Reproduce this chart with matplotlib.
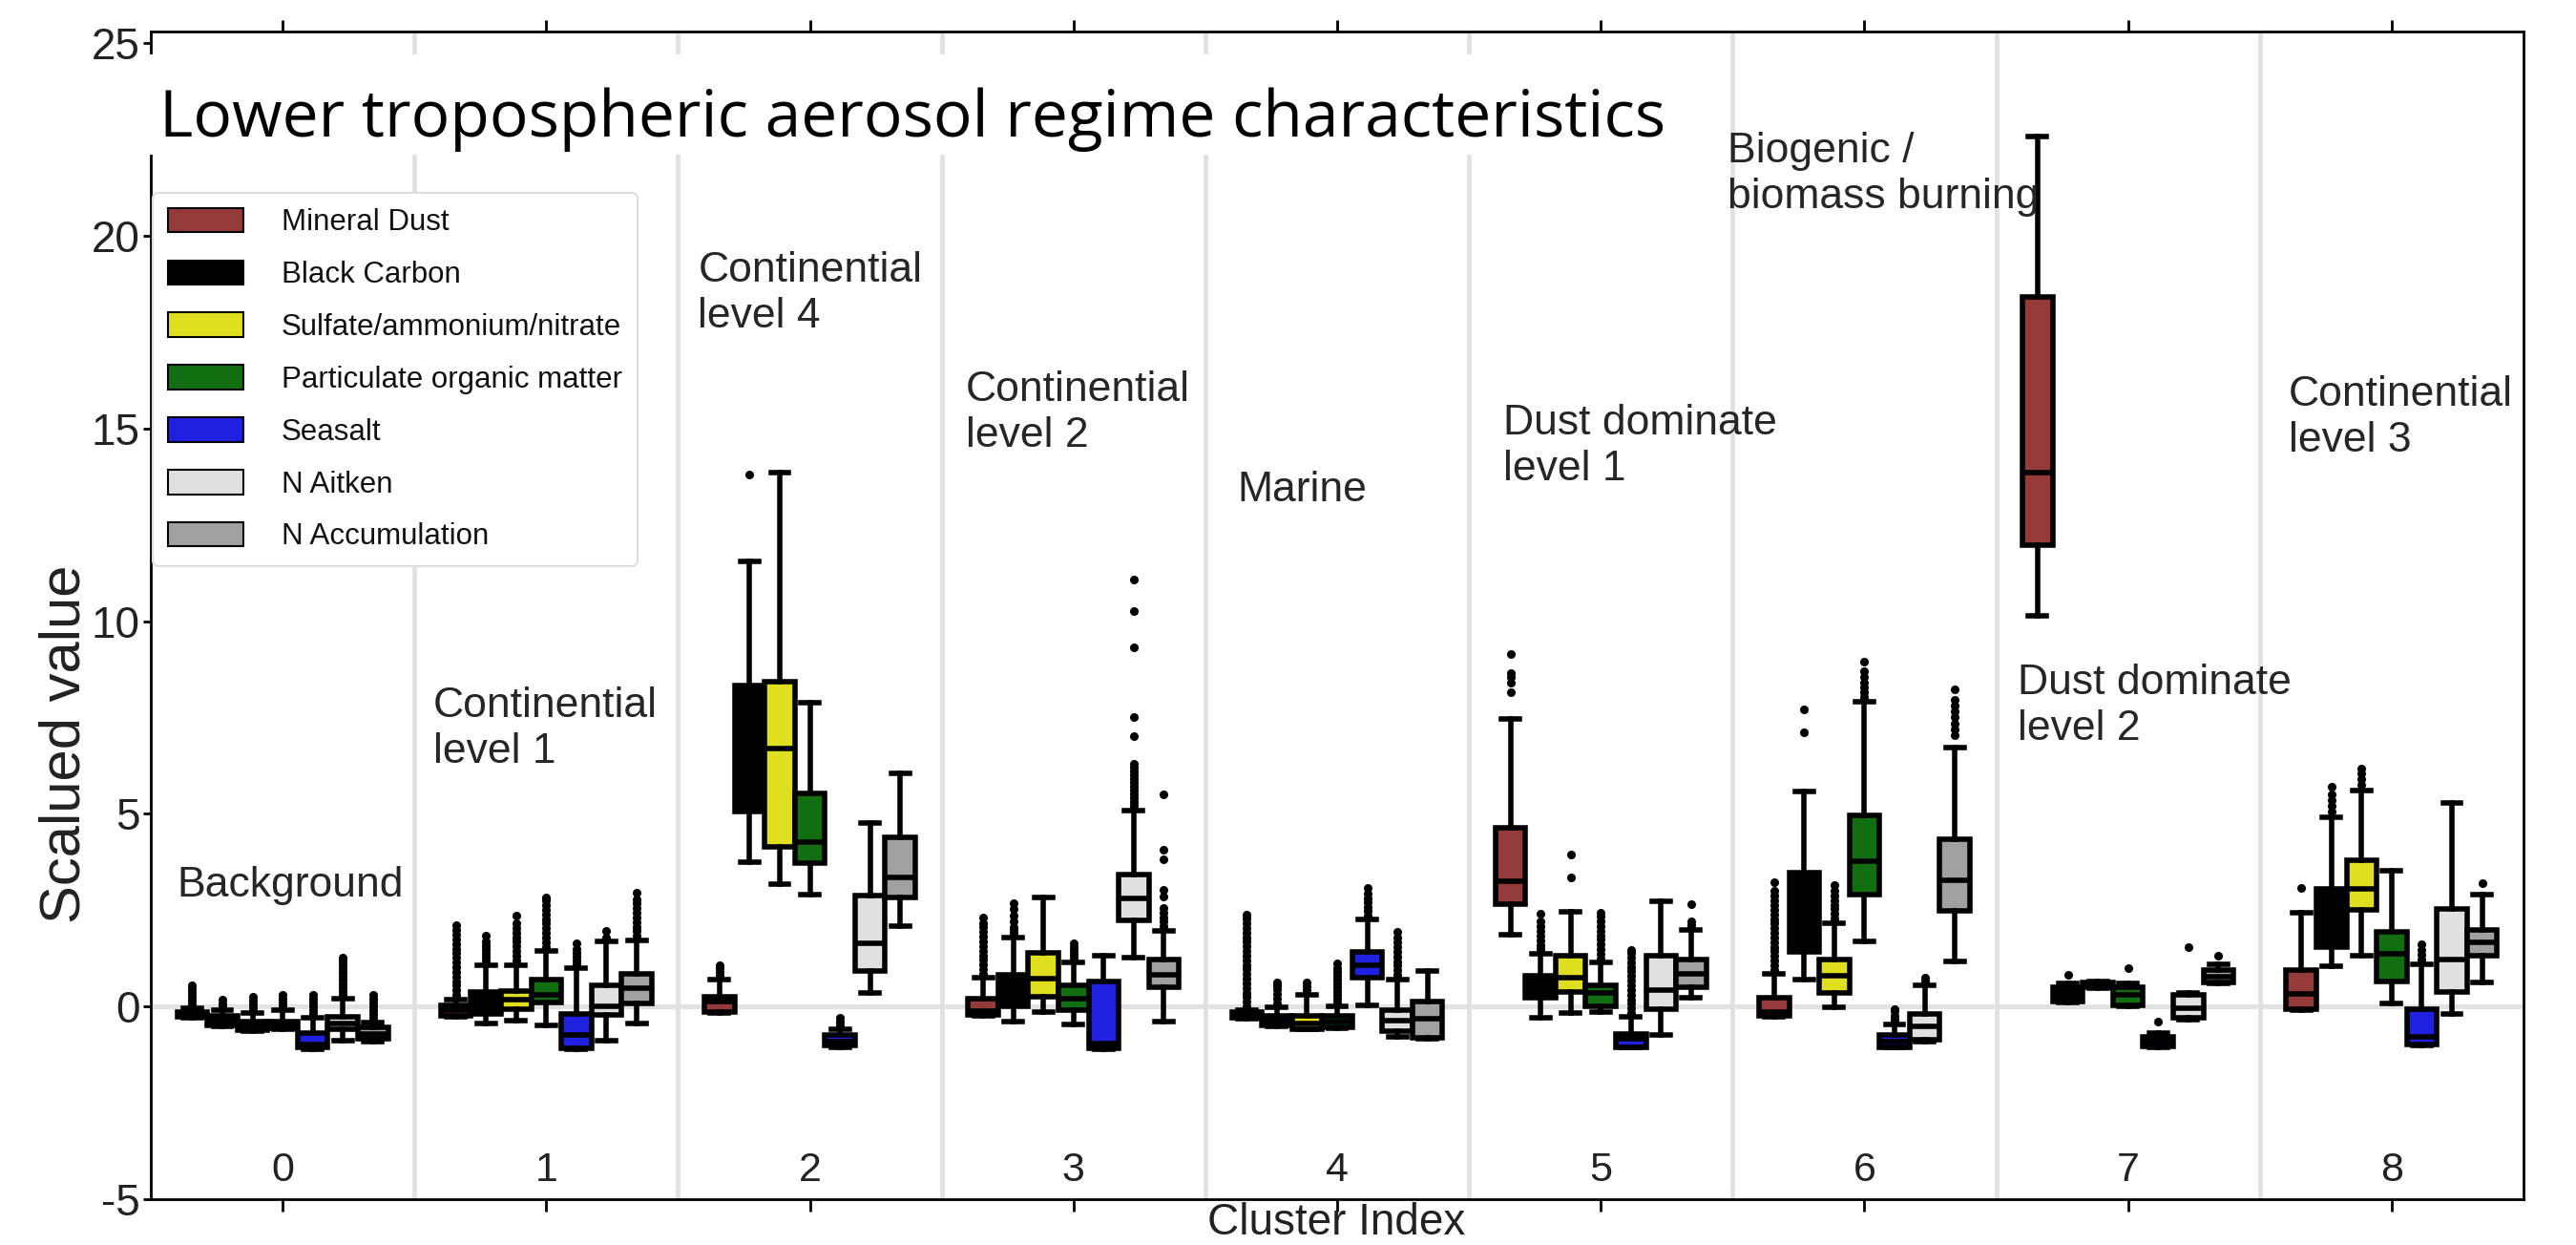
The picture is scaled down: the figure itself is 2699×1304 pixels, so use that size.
import numpy as np
import matplotlib
matplotlib.use("Agg")
import matplotlib.pyplot as plt
from matplotlib import font_manager as fm
from matplotlib.patches import Patch, Rectangle
import matplotlib.transforms as mtransforms

# ---------------- data ----------------
CLUSTERS = ["0", "1", "2", "3", "4", "5", "6", "7", "8"]
SPECIES = ["Mineral Dust", "Black Carbon", "Sulfate/ammonium/nitrate",
           "Particulate organic matter", "Seasalt", "N Aitken", "N Accumulation"]
COLORS = ["#943a3a", "#000000", "#dfdf1f", "#116e11", "#2020e0", "#e0e0e0", "#a0a0a0"]

# rows = clusters 0..8, columns = species (same order as SPECIES)
WHISKER_LOW = [
    [-0.30, -0.52, -0.63, -0.58, -1.10, -0.88, -0.90],
    [-0.27, -0.45, -0.37, -0.49, -1.10, -0.88, -0.45],
    [-0.18, 3.74, 3.18, 2.90, -1.05, 0.35, 2.08],
    [-0.25, -0.40, -0.15, -0.46, -1.10, 1.26, -0.40],
    [-0.31, -0.51, -0.60, -0.57, 0.02, -0.79, -0.85],
    [1.87, -0.30, -0.18, -0.14, -1.07, -0.74, 0.22],
    [-0.27, 0.69, -0.03, 1.70, -1.07, -0.90, 1.17],
    [10.14, 0.10, 0.48, 0.00, -1.05, -0.35, 0.60],
    [-0.10, 1.04, 1.32, 0.09, -1.00, -0.20, 0.62],
]
Q1 = [
    [-0.28, -0.50, -0.62, -0.57, -1.05, -0.60, -0.85],
    [-0.25, -0.20, -0.08, 0.10, -1.08, -0.22, 0.09],
    [-0.15, 5.06, 4.15, 3.71, -1.00, 0.91, 2.84],
    [-0.22, 0.00, 0.25, -0.09, -1.08, 2.23, 0.49],
    [-0.30, -0.50, -0.58, -0.55, 0.75, -0.64, -0.82],
    [2.66, 0.22, 0.38, 0.01, -1.05, -0.07, 0.50],
    [-0.25, 1.41, 0.34, 2.90, -1.05, -0.86, 2.49],
    [11.97, 0.13, 0.50, 0.02, -1.04, -0.30, 0.62],
    [-0.08, 1.55, 2.51, 0.66, -0.98, 0.37, 1.32],
]
MEDIAN = [
    [-0.20, -0.38, -0.50, -0.48, -0.98, -0.45, -0.72],
    [-0.10, 0.10, 0.17, 0.30, -0.75, 0.00, 0.47],
    [0.12, 6.70, 6.70, 4.26, -0.90, 1.65, 3.35],
    [-0.12, 0.40, 0.73, 0.21, -0.95, 2.80, 0.82],
    [-0.20, -0.38, -0.45, -0.40, 1.08, -0.36, -0.32],
    [3.26, 0.50, 0.75, 0.36, -0.85, 0.42, 0.84],
    [-0.15, 2.30, 0.79, 3.77, -0.90, -0.51, 3.28],
    [13.86, 0.35, 0.55, 0.30, -0.90, -0.05, 0.78],
    [0.33, 2.30, 3.04, 1.36, -0.80, 1.23, 1.66],
]
Q3 = [
    [-0.14, -0.24, -0.38, -0.38, -0.70, -0.28, -0.55],
    [0.02, 0.38, 0.40, 0.70, -0.20, 0.55, 0.84],
    [0.25, 8.32, 8.42, 5.54, -0.75, 2.87, 4.38],
    [0.20, 0.82, 1.38, 0.56, 0.65, 3.43, 1.21],
    [-0.14, -0.24, -0.25, -0.24, 1.41, -0.10, 0.13],
    [4.64, 0.79, 1.33, 0.55, -0.72, 1.33, 1.21],
    [0.22, 3.48, 1.21, 4.97, -0.74, -0.20, 4.33],
    [18.42, 0.50, 0.62, 0.50, -0.79, 0.30, 0.94],
    [0.94, 3.04, 3.80, 1.93, -0.07, 2.53, 1.99],
]
WHISKER_HIGH = [
    [-0.05, -0.10, -0.16, -0.10, -0.30, 0.20, -0.42],
    [0.18, 1.08, 1.08, 1.43, 1.00, 1.68, 1.71],
    [0.71, 11.56, 13.85, 7.89, -0.60, 4.75, 6.06],
    [0.75, 1.79, 2.82, 1.14, 1.32, 5.08, 1.97],
    [-0.10, -0.03, 0.30, 0.00, 2.26, 0.71, 0.93],
    [7.45, 1.37, 2.45, 1.14, -0.28, 2.74, 1.99],
    [0.84, 5.59, 2.16, 7.91, -0.46, 0.56, 6.72],
    [22.57, 0.60, 0.65, 0.60, -0.70, 0.35, 1.10],
    [2.43, 4.91, 5.61, 3.52, 1.10, 5.29, 2.91],
]
FLIERS = [
    [[0.05, 0.15, 0.25, 0.35, 0.45, 0.55],
     [0.0, 0.08, 0.17],
     [-0.05, 0.05, 0.15, 0.25],
     [0.0, 0.1, 0.2, 0.3],
     [-0.2, -0.1, 0.0, 0.1, 0.2, 0.3],
     [0.3, 0.4, 0.5, 0.6, 0.7, 0.8, 0.9, 1.0, 1.1, 1.2, 1.28],
     [-0.3, -0.2, -0.1, 0.0, 0.1, 0.2, 0.3]],
    [[0.3, 0.42, 0.54, 0.66, 0.78, 0.9, 1.02, 1.14, 1.26, 1.38, 1.5, 1.62, 1.74, 1.86, 1.98, 2.1],
     [1.2, 1.3, 1.4, 1.5, 1.6, 1.7, 1.85],
     [1.2, 1.32, 1.44, 1.56, 1.68, 1.8, 1.92, 2.04, 2.16, 2.37],
     [1.55, 1.67, 1.79, 1.91, 2.03, 2.15, 2.27, 2.39, 2.51, 2.63, 2.75, 2.82],
     [1.1, 1.2, 1.3, 1.4, 1.5, 1.64],
     [1.8, 1.97],
     [1.83, 1.95, 2.07, 2.19, 2.31, 2.43, 2.55, 2.67, 2.79, 2.96]],
    [[0.8, 0.9, 1.0, 1.07],
     [13.8],
     [],
     [],
     [-0.5, -0.4, -0.3],
     [],
     []],
    [[0.85, 0.97, 1.09, 1.21, 1.33, 1.45, 1.57, 1.69, 1.81, 1.93, 2.05, 2.17, 2.3],
     [1.9, 2.0, 2.07, 2.2, 2.36, 2.52, 2.69],
     [],
     [1.25, 1.35, 1.45, 1.55, 1.65],
     [],
     [5.2, 5.3, 5.4, 5.5, 5.6, 5.7, 5.8, 5.9, 6.0, 6.1, 6.2, 6.3, 7.02, 7.5, 9.33, 10.26, 11.09],
     [2.08, 2.2, 2.32, 2.44, 2.56, 2.86, 3.02, 3.82, 4.08, 5.5]],
    [[0.0, 0.12, 0.24, 0.36, 0.48, 0.6, 0.72, 0.84, 0.96, 1.08, 1.2, 1.32, 1.44, 1.56, 1.68,
      1.8, 1.92, 2.04, 2.16, 2.28, 2.38],
     [0.08, 0.2, 0.32, 0.44, 0.56, 0.63],
     [0.42, 0.53, 0.63],
     [0.1, 0.2, 0.3, 0.4, 0.5, 0.6, 0.7, 0.8, 0.9, 1.0, 1.13],
     [2.37, 2.48, 2.59, 2.7, 2.81, 2.92, 3.07],
     [0.82, 0.94, 1.06, 1.18, 1.3, 1.42, 1.54, 1.66, 1.78, 1.93],
     []],
    [[8.16, 8.4, 8.55, 8.65, 9.15],
     [1.48, 1.6, 1.72, 1.84, 1.96, 2.08, 2.2, 2.41],
     [3.36, 3.95],
     [1.25, 1.37, 1.49, 1.61, 1.73, 1.85, 1.97, 2.09, 2.21, 2.33, 2.44],
     [-0.17, -0.05, 0.07, 0.19, 0.31, 0.43, 0.55, 0.67, 0.79, 0.91, 1.03, 1.15, 1.27, 1.39, 1.46],
     [],
     [2.1, 2.2, 2.66]],
    [[0.95, 1.07, 1.19, 1.31, 1.43, 1.55, 1.67, 1.79, 1.91, 2.03, 2.15, 2.27, 2.39, 2.51,
      2.63, 2.75, 2.87, 2.99, 3.23],
     [7.12, 7.7],
     [2.28, 2.4, 2.52, 2.64, 2.76, 2.88, 3.0, 3.15],
     [8.03, 8.15, 8.27, 8.4, 8.55, 8.7, 8.94],
     [-0.35, -0.24, -0.13, -0.07],
     [0.66, 0.75],
     [7.04, 7.2, 7.35, 7.5, 7.65, 7.8, 7.95, 8.24]],
    [[],
     [0.83],
     [],
     [0.99],
     [-0.4],
     [1.54],
     [1.31]],
    [[3.08],
     [5.05, 5.2, 5.35, 5.5, 5.71],
     [5.75, 5.9, 6.05, 6.18],
     [],
     [1.22, 1.34, 1.46, 1.61],
     [],
     [3.2]],
]
REGIME_LABELS = ["Background", "Continential\nlevel 1", "Continential\nlevel 4",
                 "Continential\nlevel 2", "Marine", "Dust dominate\nlevel 1",
                 "Biogenic /\nbiomass burning", "Dust dominate\nlevel 2",
                 "Continential\nlevel 3"]
TITLE = "Lower tropospheric aerosol regime characteristics"
Y_LABEL = "Scalued value"
X_LABEL = "Cluster Index"
Y_TICKS = [-5, 0, 5, 10, 15, 20, 25]

# ---------------- layout / style ----------------
LABEL_POS = [(-0.40, 3.65), (0.57, 8.3), (1.576, 19.6), (2.59, 16.5), (3.62, 13.9),
             (4.63, 15.64), (5.48, 22.7), (6.58, 8.9), (7.61, 16.37)]

W, H = 2699, 1304
DPI = 100

_names = {f.name for f in fm.fontManager.ttflist}


def pick(*cands):
    for c in cands:
        if c in _names:
            return c
    return "DejaVu Sans"


ARIAL = pick("Liberation Sans", "Arial", "DejaVu Sans")
title_fp = fm.FontProperties(family=pick("Open Sans", "Noto Sans", "DejaVu Sans"))

fig = plt.figure(figsize=(W / DPI, H / DPI), dpi=DPI)
ax_left, ax_right, ax_top, ax_bot = 158, 2644, 33, 1256
ax = fig.add_axes([ax_left / W, 1 - ax_bot / H, (ax_right - ax_left) / W, (ax_bot - ax_top) / H])

n_c, n_s = len(CLUSTERS), len(SPECIES)
box_w = 0.8 / n_s

stats, positions, facecols = [], [], []
for i in range(n_c):
    for j in range(n_s):
        stats.append(dict(whislo=WHISKER_LOW[i][j], q1=Q1[i][j], med=MEDIAN[i][j],
                          q3=Q3[i][j], whishi=WHISKER_HIGH[i][j], fliers=FLIERS[i][j]))
        positions.append(i - 0.4 + (j + 0.5) * box_w)
        facecols.append(COLORS[j])

LW = 4.0
bp = ax.bxp(stats, positions=positions, widths=box_w, capwidths=box_w * 0.6,
            patch_artist=True, showfliers=True, manage_ticks=False,
            boxprops=dict(edgecolor="black", linewidth=LW),
            medianprops=dict(color="black", linewidth=LW),
            whiskerprops=dict(color="black", linewidth=LW),
            capprops=dict(color="black", linewidth=LW),
            flierprops=dict(marker="o", markerfacecolor="black", markeredgecolor="black",
                            markersize=5.5, linestyle="none"))
for patch, c in zip(bp["boxes"], facecols):
    patch.set_facecolor(c)

ax.set_xlim(-0.5, n_c - 0.5)
ax.set_ylim(-5, 25.3)

# grid: category separators + zero line
ax.set_axisbelow(True)
ax.set_xticks(np.arange(n_c - 1) + 0.5, minor=True)
ax.xaxis.grid(True, which="minor", color="#e1e1e1", linewidth=3.5)
ax.axhline(0, color="#e1e1e1", linewidth=3.5, zorder=0.5)

ax.set_xticks(range(n_c))
ax.set_xticklabels(CLUSTERS, fontsize=31, family=ARIAL, color="#222222")
ax.tick_params(axis="x", which="major", direction="out", length=9, width=2,
               top=True, labeltop=False, pad=-45)
ax.tick_params(axis="x", which="minor", length=0)

ax.set_yticks(Y_TICKS)
ax.set_yticklabels([str(v) for v in Y_TICKS], fontsize=33, family=ARIAL, color="#222222")
ax.tick_params(axis="y", direction="out", length=6, width=2, pad=2)

for sp in ax.spines.values():
    sp.set_linewidth(2)
    sp.set_color("black")

ax.set_ylabel(Y_LABEL, fontsize=43, family=ARIAL, color="#222222")
ax.yaxis.set_label_coords(-0.025, 0.39)
fig.text(1400 / W, 1 / H, X_LABEL, fontsize=33, family=ARIAL, color="#222222",
         ha="center", va="bottom")

# regime annotations
for txt, (x, y) in zip(REGIME_LABELS, LABEL_POS):
    ax.text(x, y, txt, fontsize=32, family=ARIAL, color="#262626", ha="left", va="top",
            linespacing=1.22, zorder=6)

# white panel behind the title (covers grid + left spine there)
trans = mtransforms.blended_transform_factory(ax.transAxes, ax.transData)
ax.add_patch(Rectangle((-0.002, 22.1), 0.637, 2.6, transform=trans, facecolor="white",
                       edgecolor="none", zorder=4, clip_on=False))

# legend
leg_fs = 22.5
fs_px = leg_fs * DPI / 72
handles = [Patch(facecolor=c, edgecolor="black", linewidth=1.5) for c in COLORS]
leg = ax.legend(handles, SPECIES, loc="upper left",
                bbox_to_anchor=(0.001, 1 - (202 - ax_top) / (ax_bot - ax_top)),
                borderaxespad=0, frameon=True, fancybox=True, framealpha=1,
                edgecolor="#dddddd", facecolor="white",
                prop=fm.FontProperties(family=ARIAL, size=leg_fs),
                handlelength=79 / fs_px, handleheight=27.5 / fs_px,
                handletextpad=40 / fs_px, labelspacing=(54 - 0.95 * fs_px) / fs_px,
                borderpad=0.5)
leg.get_frame().set_linewidth(1.5)
leg.set_zorder(7)
for t in leg.get_texts():
    t.set_color("#111111")

# title, sized to match the reference width
title = fig.text(167 / W, 1 - 143 / H, TITLE, fontproperties=title_fp, fontsize=50,
                 va="baseline", ha="left", color="black", zorder=10)
fig.canvas.draw()
bb = title.get_window_extent()
title.set_fontsize(50 * 1580 / bb.width)

fig.savefig("out.png", dpi=DPI)
